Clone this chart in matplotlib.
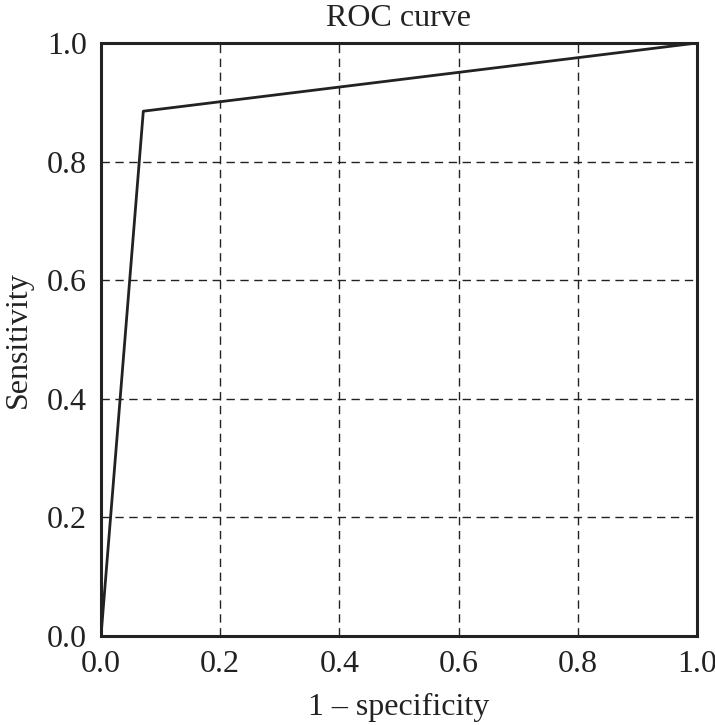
import matplotlib.pyplot as plt

fpr = [0.0, 0.071, 1.0]
tpr = [0.0, 0.885, 1.0]
ticks = [0.0, 0.2, 0.4, 0.6, 0.8, 1.0]
tick_labels = ['0.0', '0.2', '0.4', '0.6', '0.8', '1.0']

plt.rcParams['font.family'] = ['Liberation Serif', 'DejaVu Serif']

fig = plt.figure(figsize=(7.15, 7.25), dpi=100)
ax = fig.add_axes([101/715, 1 - 636/725, 596/715, 593/725])

ax.plot(fpr, tpr, color='#222222', lw=2)
ax.set_xlim(0, 1)
ax.set_ylim(0, 1)
ax.set_xticks(ticks)
ax.set_yticks(ticks)
ax.set_xticklabels(tick_labels)
ax.set_yticklabels(tick_labels)
ax.tick_params(length=0, labelsize=23, pad=10, colors='#222222')
ax.grid(True, color='#222222', ls=(0, (6, 4)), lw=1)
for s in ax.spines.values():
    s.set_linewidth(2.2)
    s.set_color('#222222')

ax.set_title('ROC curve', fontsize=23, pad=12, color='#222222')
ax.set_xlabel('1 \u2013 specificity', fontsize=23, color='#222222', labelpad=10)
ax.set_ylabel('Sensitivity', fontsize=23, color='#222222', labelpad=10)

fig.savefig('out.png', dpi=100)
